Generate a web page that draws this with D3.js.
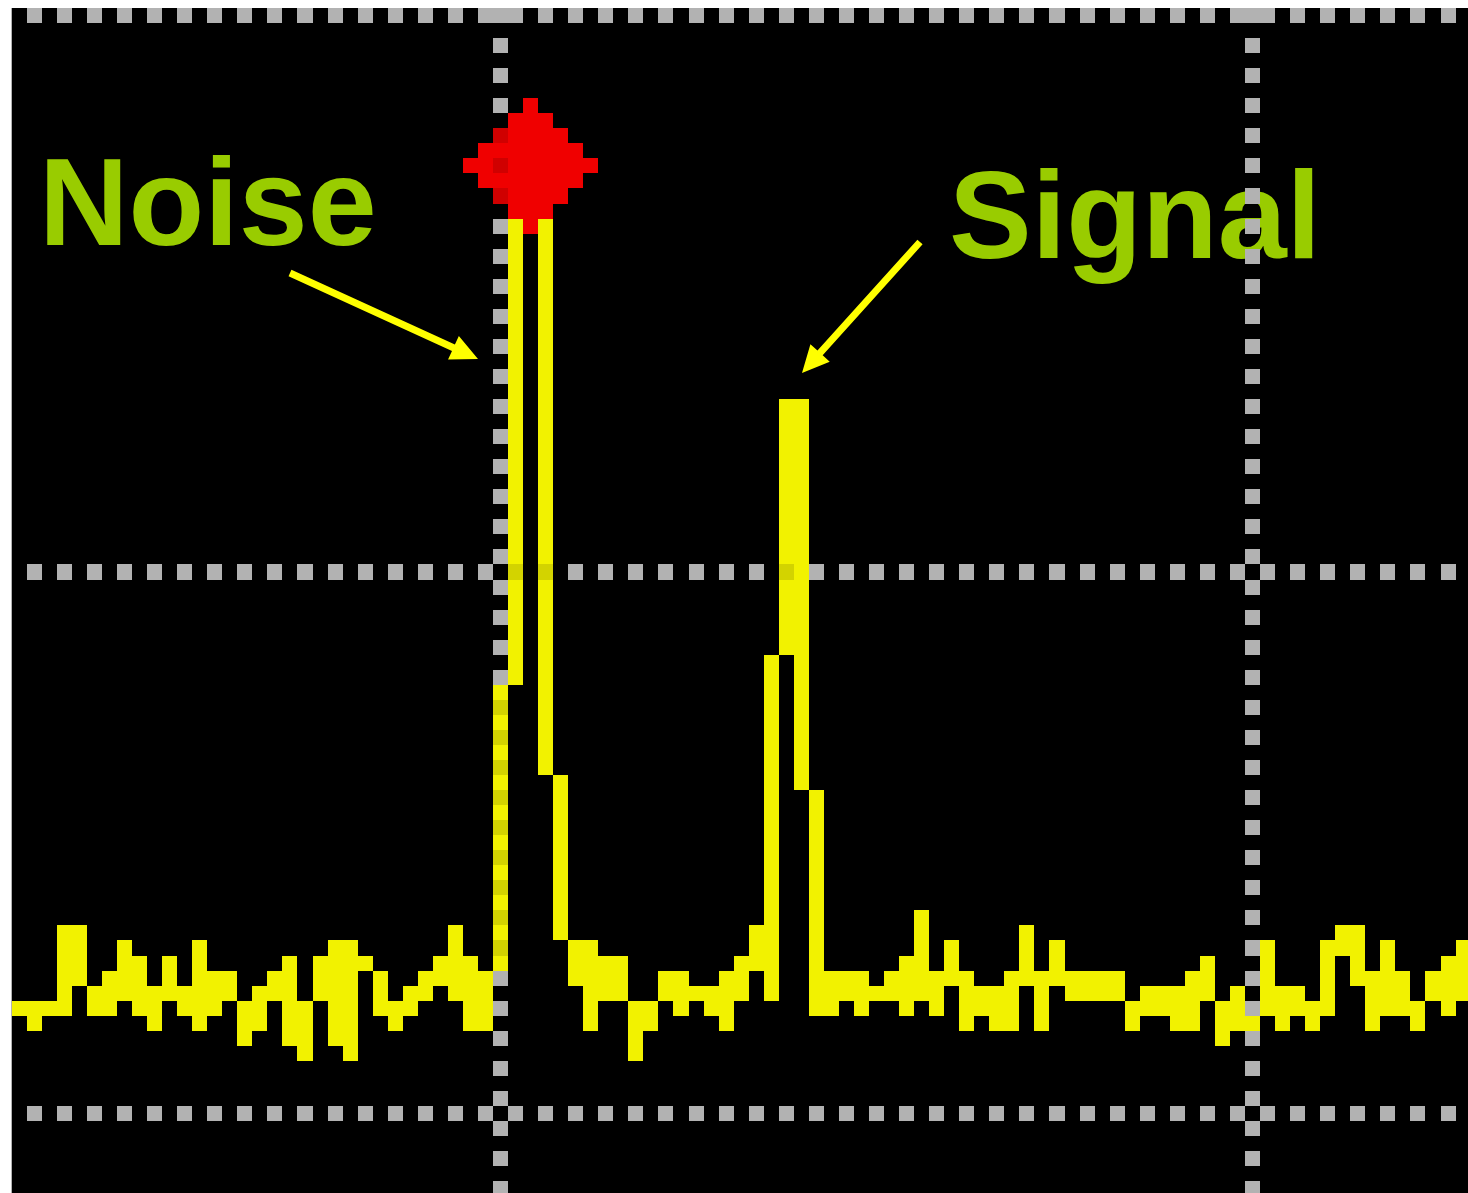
<!DOCTYPE html>
<html><head><meta charset="utf-8">
<script src="https://cdn.jsdelivr.net/npm/d3@7"></script>
<style>html,body{margin:0;padding:0;background:#fff;overflow:hidden}svg{display:block}</style>
</head><body>
<script>
// ---- data (levels counted in screen-pixel steps above the bottom graticule line) ----
const sampleIndex = d3.range(97);
const traceHigh = [7,7,7,12,12,8,9,11,10,8, 10,8,11,9,9,7,8,9,10,7, 10,11,11,10,9,7,8,9,10,12,
  10,9,28,59,59,59,22,11,11,10, 10,7,7,9,9,8,8,9,10,12, 30,47,47,21,9,9,9,8,9,10,
  13,9,11,9,8,8,9,12,9,11, 9,9,9,9,7,8,8,8,9,10, 7,8,6,11,8,8,7,11,12,12, 9,11,9,7,9,10,11];
const traceLow = [7,6,7,7,9,7,7,8,7,6, 8,7,6,7,8,5,6,8,5,4, 8,5,4,10,7,6,7,8,9,8,
  6,6,10,29,59,23,12,9,6,8, 8,4,6,8,7,8,7,6,8,10, 8,31,22,7,7,8,7,8,8,7,
  8,7,9,6,7,6,6,9,6,9, 8,8,8,8,6,7,7,6,6,8, 5,6,6,7,6,7,6,7,11,9, 6,7,7,6,8,7,8];
const markerIndex = 34, markerLevel = 63, markerRadius = 4;
const gridLevels = [73, 36, 0];      // horizontal graticule lines
const gridSamples = [32, 82];        // vertical graticule lines
const labels = [
  {text: "Noise", x: 39, y: 245, from: [290, 273], to: [478, 359]},
  {text: "Signal", x: 949, y: 258, from: [920, 242], to: [802, 373]}
];

// ---- layout ----
const W = 1468, H = 1193;
const cell = 15.04, x0 = 11.7, y0 = 8, nCols = 97, nRows = 79;
const x = d3.scaleLinear().domain([0, nCols]).range([x0, x0 + nCols * cell]);
const y = d3.scaleLinear().domain([73, 73 - nRows]).range([y0, y0 + nRows * cell]);

const GRAY = "#b2b2b2", YEL = "#f2f200", YEL_D = "#d3d300", RED = "#f00000", RED_D = "#d00000";

const svg = d3.select("body").append("svg").attr("width", W).attr("height", H);
svg.append("rect").attr("width", W).attr("height", H).attr("fill", "#fff");
const plot = svg.append("g");
plot.append("rect").attr("x", x(0)).attr("y", y(73)).attr("width", W - x(0)).attr("height", H - y(73)).attr("fill", "#000");

// labels
plot.selectAll("text.lab").data(labels).join("text").attr("class", "lab")
  .attr("x", d => d.x).attr("y", d => d.y)
  .attr("font-family", "'Liberation Sans', Arial, sans-serif").attr("font-weight", "bold")
  .attr("font-size", 124).attr("fill", "#99cc00").text(d => d.text);

// graticule cells
const isGrid = (c, L) => {
  const row = 73 - L;
  return (gridLevels.includes(L) && c % 2 === 1) || (gridSamples.includes(c) && row % 2 === 0);
};
const gridCells = [];
for (let c = 0; c < nCols; c++) for (let r = 0; r < nRows; r++) {
  const L = 73 - r;
  if (isGrid(c, L)) gridCells.push({c, L});
}
const cg = plot.append("g").attr("shape-rendering", "crispEdges");
cg.selectAll("rect.g").data(gridCells).join("rect").attr("class", "g")
  .attr("x", d => x(d.c)).attr("y", d => y(d.L))
  .attr("width", d => x(d.c + 1) - x(d.c)).attr("height", d => y(d.L - 1) - y(d.L))
  .attr("fill", GRAY);

// trace cells
const traceCells = [];
sampleIndex.forEach(i => {
  for (let L = traceLow[i]; L <= traceHigh[i]; L++) traceCells.push({c: i, L});
});
cg.selectAll("rect.t").data(traceCells).join("rect").attr("class", "t")
  .attr("x", d => x(d.c)).attr("y", d => y(d.L))
  .attr("width", d => x(d.c + 1) - x(d.c)).attr("height", d => y(d.L - 1) - y(d.L))
  .attr("fill", d => isGrid(d.c, d.L) ? YEL_D : YEL);

// marker diamond
const mCells = [];
for (let dc = -markerRadius; dc <= markerRadius; dc++)
  for (let dl = -markerRadius; dl <= markerRadius; dl++)
    if (Math.abs(dc) + Math.abs(dl) <= markerRadius) mCells.push({c: markerIndex + dc, L: markerLevel + dl});
cg.selectAll("rect.m").data(mCells).join("rect").attr("class", "m")
  .attr("x", d => x(d.c)).attr("y", d => y(d.L))
  .attr("width", d => x(d.c + 1) - x(d.c)).attr("height", d => y(d.L - 1) - y(d.L))
  .attr("fill", d => isGrid(d.c, d.L) ? RED_D : RED);

// arrows
function arrowPath(a, b, sw = 7, hl = 27, hw = 13) {
  const dx = b[0] - a[0], dy = b[1] - a[1], len = Math.hypot(dx, dy);
  const ux = dx / len, uy = dy / len, px = -uy, py = ux;
  const bx = b[0] - ux * hl, by = b[1] - uy * hl;
  const p = [
    [a[0] + px * sw / 2, a[1] + py * sw / 2], [bx + px * sw / 2, by + py * sw / 2],
    [bx + px * hw, by + py * hw], b, [bx - px * hw, by - py * hw],
    [bx - px * sw / 2, by - py * sw / 2], [a[0] - px * sw / 2, a[1] - py * sw / 2]
  ];
  return "M" + p.map(q => q.join(",")).join("L") + "Z";
}
plot.selectAll("path.arr").data(labels).join("path").attr("class", "arr")
  .attr("d", d => arrowPath(d.from, d.to)).attr("fill", "#ffff00");
</script>
</body></html>
